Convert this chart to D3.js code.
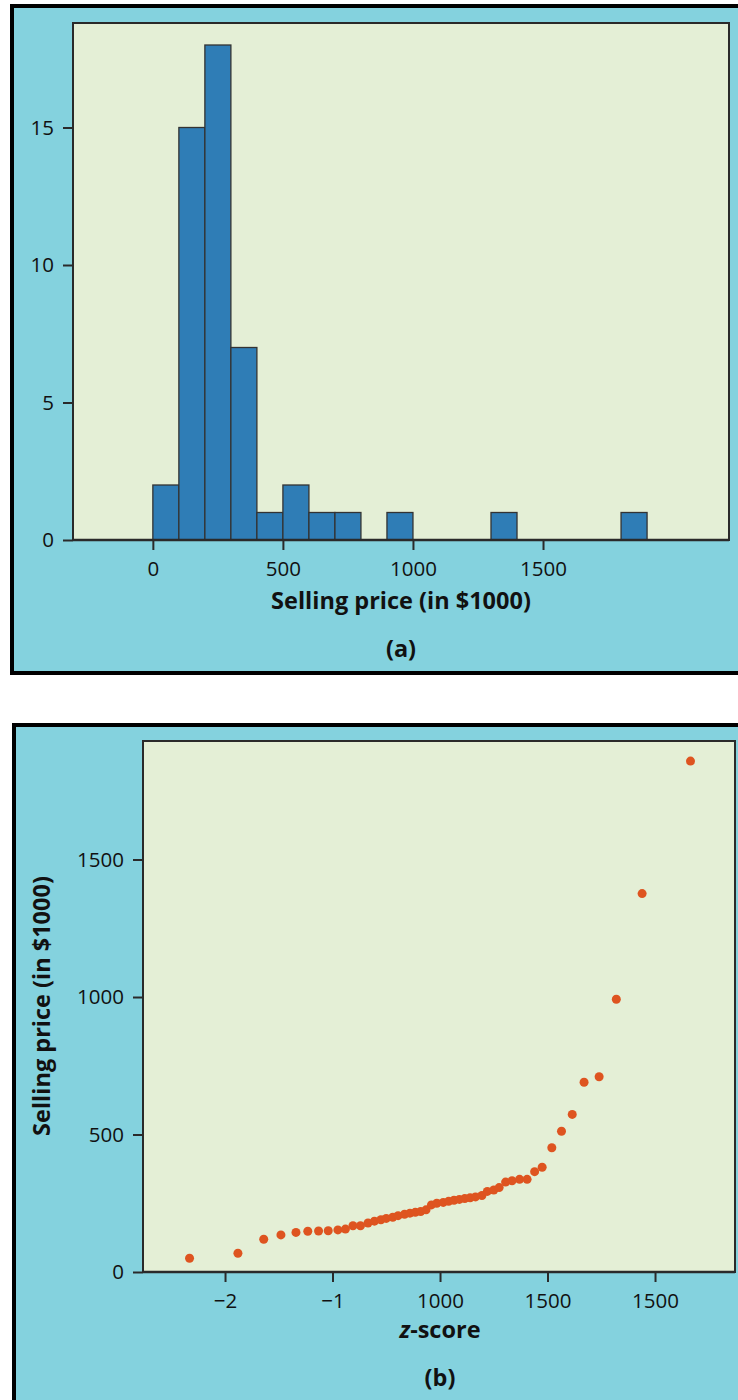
<!DOCTYPE html>
<html><head><meta charset="utf-8">
<script src="https://cdn.jsdelivr.net/npm/d3@7"></script>
<style>
body{margin:0;background:#fff}
svg{display:block}
text{font-family:"Open Sans",sans-serif;fill:#111}
</style>
</head><body>
<svg id="c" width="738" height="1400"></svg>
<script>
// Sorted selling prices (in $1000)
const prices = [50,68,119,135,144,148,149,150,153,156,168,168,178,185,190,195,199,
  205,210,214,217,220,226,244,250,253,257,261,264,267,270,273,278,293,298,
  307,327,332,337,337,365,381,452,512,573,690,710,992,1376,1858];
// z-scores of the plotted points
const zScores = [-2.33,-1.88,-1.64,-1.48,-1.34,-1.23,-1.13,-1.04,-0.95,-0.88,-0.81,-0.74,-0.67,-0.61,-0.55,-0.50,-0.44,
  -0.39,-0.33,-0.28,-0.23,-0.18,-0.13,-0.08,-0.03,0.03,0.08,0.13,0.18,0.23,0.28,0.33,0.39,0.44,0.50,
  0.55,0.61,0.67,0.74,0.81,0.88,0.95,1.04,1.13,1.23,1.34,1.48,1.64,1.88,2.33];
const binEdges = [0,100,200,300,400,500,600,700,800,900,1000,1100,1200,1300,1400,1500,1600,1700,1800,1900,2000];
const histXTicks = [0,500,1000,1500];
const histYTicks = [0,5,10,15];
const qqXTicks = [-2,-1,0,1,2];
const qqXTickLabels = ["\u22122","\u22121","1000","1500","1500"];
const qqYTicks = [0,500,1000,1500];

const CYAN="#84D2DE", PLOT="#E4EFD6", BAR="#2F7DB6", DOT="#DE5420", DARK="#2a2a2a";
const TICK_FS = 20.5, TITLE_FS = 23.5;
const svg = d3.select("#c");

// ---------- Panel (a) ----------
svg.append("rect").attr("x",12).attr("y",6).attr("width",760).attr("height",667)
  .attr("fill",CYAN).attr("stroke","#000").attr("stroke-width",4);

const A = {l:73,t:23,r:729,b:540};
const xa = d3.scaleLinear().domain([-307,2215]).range([A.l,A.r]);
const ya = d3.scaleLinear().domain([0,18.8]).range([A.b,A.t]);

svg.append("rect").attr("x",A.l).attr("y",A.t).attr("width",A.r-A.l).attr("height",A.b-A.t)
  .attr("fill",PLOT).attr("stroke",DARK).attr("stroke-width",2);

const bins = d3.bin().domain([0,2000]).thresholds(binEdges)(prices).filter(b=>b.length>0);
svg.append("g").selectAll("rect").data(bins).join("rect")
  .attr("x",d=>xa(d.x0)).attr("width",d=>xa(d.x1)-xa(d.x0))
  .attr("y",d=>ya(d.length)).attr("height",d=>ya(0)-ya(d.length))
  .attr("fill",BAR).attr("stroke","#333").attr("stroke-width",1.3);

function styleAxis(g){
  g.select(".domain").remove();
  g.selectAll(".tick line").attr("stroke",DARK).attr("stroke-width",2);
  g.selectAll(".tick text").attr("font-size",TICK_FS).attr("fill","#111").attr("font-family","Open Sans, sans-serif");
}
svg.append("g").attr("transform",`translate(${A.l},0)`)
  .call(d3.axisLeft(ya).tickValues(histYTicks).tickSize(10).tickPadding(9).tickFormat(d3.format("d")))
  .call(styleAxis);
svg.append("g").attr("transform",`translate(0,${A.b})`)
  .call(d3.axisBottom(xa).tickValues(histXTicks).tickSize(10).tickPadding(11).tickFormat(d3.format("d")))
  .call(styleAxis);
svg.append("line").attr("x1",A.l).attr("x2",A.r).attr("y1",A.b).attr("y2",A.b).attr("stroke",DARK).attr("stroke-width",2.5);

svg.append("text").attr("x",401).attr("y",609).attr("text-anchor","middle")
  .attr("font-size",TITLE_FS).attr("font-weight",700).text("Selling price (in $1000)");
svg.append("text").attr("x",401).attr("y",657).attr("text-anchor","middle")
  .attr("font-size",TITLE_FS).attr("font-weight",700).text("(a)");

// ---------- Panel (b) ----------
svg.append("rect").attr("x",14).attr("y",725).attr("width",760).attr("height",720)
  .attr("fill",CYAN).attr("stroke","#000").attr("stroke-width",4);

const B = {l:143,t:741,r:735,b:1272};
const xb = d3.scaleLinear().domain([-2.763,2.744]).range([B.l,B.r]);
const yb = d3.scaleLinear().domain([0,1931]).range([B.b,B.t]);

svg.append("rect").attr("x",B.l).attr("y",B.t).attr("width",B.r-B.l).attr("height",B.b-B.t)
  .attr("fill",PLOT).attr("stroke",DARK).attr("stroke-width",2);

svg.append("g").selectAll("circle").data(prices.map((p,i)=>({p,z:zScores[i]}))).join("circle")
  .attr("cx",d=>xb(d.z)).attr("cy",d=>yb(d.p)).attr("r",4.5).attr("fill",DOT);

svg.append("g").attr("transform",`translate(${B.l},0)`)
  .call(d3.axisLeft(yb).tickValues(qqYTicks).tickSize(10).tickPadding(9).tickFormat(d3.format("d")))
  .call(styleAxis);
svg.append("g").attr("transform",`translate(0,${B.b})`)
  .call(d3.axisBottom(xb).tickValues(qqXTicks).tickSize(10).tickPadding(11).tickFormat((d,i)=>qqXTickLabels[i]))
  .call(styleAxis);
svg.append("line").attr("x1",B.l).attr("x2",B.r).attr("y1",B.b).attr("y2",B.b).attr("stroke",DARK).attr("stroke-width",2.5);

const zt = svg.append("text").attr("x",440).attr("y",1338).attr("text-anchor","middle")
  .attr("font-size",TITLE_FS).attr("font-weight",700);
zt.append("tspan").attr("font-style","italic").text("z");
zt.append("tspan").text("-score");
svg.append("text").attr("x",440).attr("y",1386).attr("text-anchor","middle")
  .attr("font-size",TITLE_FS).attr("font-weight",700).text("(b)");
svg.append("text").attr("transform","translate(50,1006) rotate(-90)").attr("text-anchor","middle")
  .attr("font-size",TITLE_FS).attr("font-weight",700).text("Selling price (in $1000)");
</script>
</body></html>
